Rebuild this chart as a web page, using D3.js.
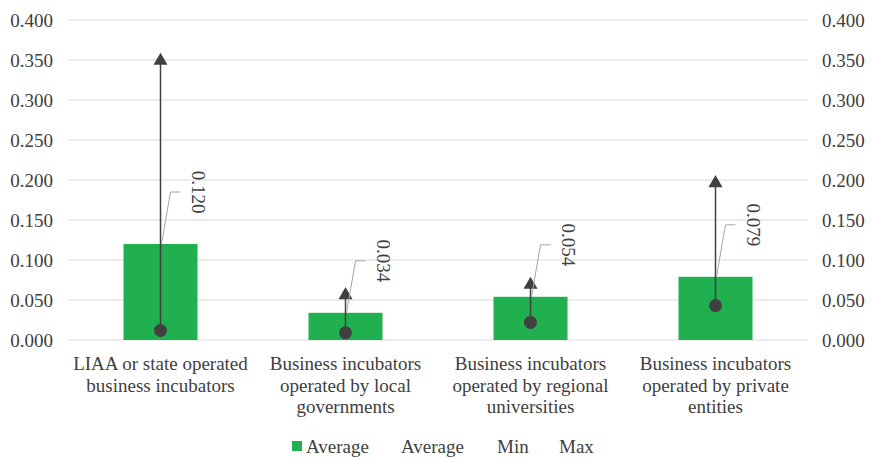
<!DOCTYPE html>
<html><head><meta charset="utf-8">
<script src="https://cdn.jsdelivr.net/npm/d3@7"></script>
</head><body style="margin:0"><svg id="c" width="872" height="458" font-family="Liberation Serif"></svg>
<script>
const categories = [
  ["LIAA or state operated","business incubators"],
  ["Business incubators","operated by local","governments"],
  ["Business incubators","operated by regional","universities"],
  ["Business incubators","operated by private","entities"]
];
const avgValues = [0.120, 0.034, 0.054, 0.079];
const minValues = [0.012, 0.009, 0.022, 0.043];
const maxValues = [0.349, 0.056, 0.069, 0.196];
const tickValues = [0, 0.05, 0.1, 0.15, 0.2, 0.25, 0.3, 0.35, 0.4];
const legendLabels = ["Average", "Average", "Min", "Max"];

(function () {
const svg = d3.select("#c");
const L = 68, R = 808, T = 20, B = 340;
const fs = 19;
const x = d3.scaleBand().domain(d3.range(categories.length)).range([L, R]).paddingInner(0.6).paddingOuter(0.3);
const xc = d3.scaleBand().domain(d3.range(categories.length)).range([L, R]);
const y = d3.scaleLinear().domain([0, 0.4]).range([B, T]);
const fmt = d3.format(".3f");

svg.append("g").selectAll("line").data(tickValues).join("line")
  .attr("x1", L).attr("x2", R).attr("y1", d => y(d)).attr("y2", d => y(d))
  .attr("stroke", "#d9d9d9").attr("stroke-width", 1);

const yl = d3.axisLeft(y).tickValues(tickValues).tickFormat(fmt).tickSize(0).tickPadding(15);
const gl = svg.append("g").attr("transform", `translate(${L},0)`).call(yl);
const yr = d3.axisRight(y).tickValues(tickValues).tickFormat(fmt).tickSize(0).tickPadding(14);
const gr = svg.append("g").attr("transform", `translate(${R},0)`).call(yr);
[gl, gr].forEach(g => {
  g.attr("font-family", null).attr("font-size", null);
  g.select(".domain").remove();
  g.selectAll("text").attr("dy", "0.34em");
});

svg.append("g").selectAll("rect").data(avgValues).join("rect")
  .attr("x", (d, i) => x(i)).attr("width", x.bandwidth())
  .attr("y", d => y(d)).attr("height", d => y(0) - y(d))
  .attr("fill", "#21b04f");

const cx = i => xc(i) + xc.bandwidth() / 2;
svg.append("g").selectAll("line").data(avgValues).join("line")
  .attr("x1", (d, i) => cx(i)).attr("x2", (d, i) => cx(i))
  .attr("y1", (d, i) => y(minValues[i])).attr("y2", (d, i) => y(maxValues[i]))
  .attr("stroke", "#404040").attr("stroke-width", 1.5);

svg.append("g").selectAll("circle").data(minValues).join("circle")
  .attr("cx", (d, i) => cx(i)).attr("cy", d => y(d)).attr("r", 6.5).attr("fill", "#404040");

const tri = d3.symbol().type(d3.symbolTriangle).size(85);
svg.append("g").selectAll("path").data(maxValues).join("path")
  .attr("d", tri).attr("transform", (d, i) => `translate(${cx(i)},${y(d)})`).attr("fill", "#404040");

avgValues.forEach((v, i) => {
  const c = cx(i), yt = y(v), ly = yt - 52;
  svg.append("polyline")
    .attr("points", `${c + 1},${yt} ${c + 10},${ly} ${c + 20},${ly}`)
    .attr("fill", "none").attr("stroke", "#a6a6a6").attr("stroke-width", 1);
  svg.append("text").attr("transform", `translate(${c + 26},${ly}) rotate(90)`)
    .attr("text-anchor", "middle").attr("dy", "-0.3em").text(fmt(v));
});

categories.forEach((lines, i) => {
  const t = svg.append("text").attr("text-anchor", "middle");
  lines.forEach((l, j) => t.append("tspan").attr("x", cx(i)).attr("y", 370 + j * 21.5).text(l));
});

const lg = svg.append("g");
lg.append("rect").attr("x", 292).attr("y", 441).attr("width", 10).attr("height", 10).attr("fill", "#21b04f");
const lx = [306, 401, 497, 559];
legendLabels.forEach((l, i) => lg.append("text").attr("x", lx[i]).attr("y", 453).text(l));

svg.selectAll("text").attr("font-family", "Liberation Serif").attr("font-size", fs).attr("fill", "#404040");
})();
</script></body></html>
